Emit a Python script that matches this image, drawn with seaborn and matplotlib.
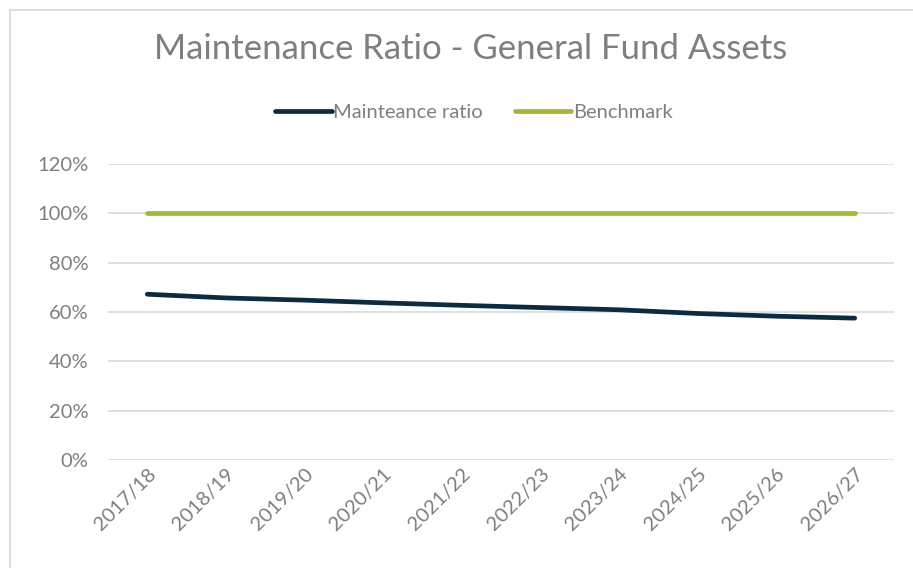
import matplotlib
matplotlib.use("Agg")
import matplotlib.pyplot as plt
import matplotlib.patches as mpatches
from matplotlib.ticker import PercentFormatter
import pandas as pd
import seaborn as sns

# Chart data
YEARS = ["2017/18", "2018/19", "2019/20", "2020/21", "2021/22",
         "2022/23", "2023/24", "2024/25", "2025/26", "2026/27"]
MAINT_RATIO = [0.672, 0.657, 0.648, 0.637, 0.627, 0.618, 0.609, 0.594, 0.583, 0.575]
BENCHMARK = [1.0] * 10
Y_TICKS = [0, 0.2, 0.4, 0.6, 0.8, 1.0, 1.2]

NAVY = "#0c2b40"
GREEN = "#9bbb3b"
TEXT = "#7f7f7f"

sns.set_theme(style="white")
plt.rcParams["font.family"] = ["Lato", "DejaVu Sans"]

df = pd.DataFrame({
    "year": YEARS * 2,
    "value": MAINT_RATIO + BENCHMARK,
    "series": ["Mainteance ratio"] * 10 + ["Benchmark"] * 10,
})

fig = plt.figure(figsize=(9.13, 5.68), dpi=100)
ax = fig.add_axes([108 / 913, 1 - 460 / 568, 786 / 913, 296 / 568])

sns.lineplot(
    data=df, x="year", y="value", hue="series",
    palette={"Mainteance ratio": NAVY, "Benchmark": GREEN},
    linewidth=3.4, ax=ax, legend=False,
)
for ln in ax.lines:
    ln.set_solid_capstyle("round")

ax.set_xlim(-0.5, len(YEARS) - 0.5)
ax.set_ylim(0, 1.2)
ax.set_yticks(Y_TICKS)
ax.yaxis.set_major_formatter(PercentFormatter(1.0, decimals=0))
ax.yaxis.grid(True, color="#d9d9d9", linewidth=1.2)
ax.set_axisbelow(True)
for s in ax.spines.values():
    s.set_visible(False)
ax.set_xlabel("")
ax.set_ylabel("")
ax.tick_params(axis="y", colors=TEXT, labelsize=14.5, length=0, pad=14)
ax.tick_params(axis="x", colors=TEXT, labelsize=14.5, length=0, pad=4)
for lbl in ax.get_xticklabels():
    lbl.set_rotation(45)
    lbl.set_ha("right")
    lbl.set_rotation_mode("anchor")

fig.text(471 / 913, 1 - 49 / 568, "Maintenance Ratio - General Fund Assets",
         ha="center", va="center", fontsize=25, color=TEXT)

handles = [
    plt.Line2D([], [], color=NAVY, linewidth=3.4, solid_capstyle="round"),
    plt.Line2D([], [], color=GREEN, linewidth=3.4, solid_capstyle="round"),
]
fig.legend(handles, ["Mainteance ratio", "Benchmark"], loc="center",
           bbox_to_anchor=(474 / 913, 1 - 112 / 568), ncol=2, frameon=False,
           fontsize=14.5, labelcolor=TEXT, handlelength=2.8, handletextpad=0.08,
           columnspacing=1.6)

# chart frame
fig.patches.append(mpatches.Rectangle((10 / 913, -0.1), 1.2, 1 - 10 / 568 + 0.1,
                                      transform=fig.transFigure, fill=False,
                                      edgecolor="#d9d9d9", linewidth=1.2))

fig.savefig("out.png", dpi=100)
plt.close(fig)
